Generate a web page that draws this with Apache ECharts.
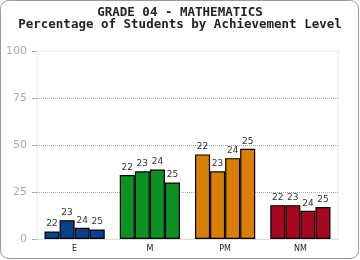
<!DOCTYPE html>
<html>
<head>
<meta charset="utf-8">
<script src="https://cdn.jsdelivr.net/npm/echarts@6/dist/echarts.min.js"></script>
<style>
  html, body { margin: 0; padding: 0; background: #fff; }
  #chart { width: 360px; height: 260px; }
</style>
</head>
<body>
<div id="chart"></div>
<script>
// achievement levels and school years
var levels = ['E', 'M', 'PM', 'NM'];
var years = ['22', '23', '24', '25'];
var levelColors = ['#0a418b', '#0c9224', '#d97e07', '#a7061f'];
var yTicks = [0, 25, 50, 75, 100];

// percent of students, one array per level (22..25)
var valE = [4, 10, 6, 5];
var valM = [34, 36, 37, 30];
var valPM = [45, 36, 43, 48];
var valNM = [18, 18, 15, 17];
var levelValues = [valE, valM, valPM, valNM];

var mono = 'DejaVu Sans Mono';

// one series per year, each bar coloured by its level
var series = years.map(function (yr, j) {
  return {
    name: yr,
    type: 'bar',
    barGap: 0,
    barCategoryGap: '20%',
    data: levels.map(function (lv, i) {
      return {
        value: levelValues[i][j],
        itemStyle: { color: levelColors[i] }
      };
    }),
    itemStyle: { borderColor: '#000', borderWidth: 1.2 },
    label: {
      show: true,
      position: 'top',
      distance: 3,
      formatter: yr,
      fontFamily: 'DejaVu Sans',
      fontSize: 9,
      color: '#333'
    }
  };
});

var chart = echarts.init(document.getElementById('chart'));
chart.setOption({
  animation: false,
  title: {
    text: 'GRADE 04 - MATHEMATICS\nPercentage of Students by Achievement Level',
    left: 'center',
    top: 2,
    textStyle: {
      fontFamily: mono,
      fontWeight: 'bold',
      fontSize: 12.5,
      lineHeight: 12,
      color: '#222'
    }
  },
  graphic: [{
    type: 'rect',
    shape: { x: 0.5, y: 0.5, width: 358, height: 258, r: 8 },
    style: { fill: 'none', stroke: '#999', lineWidth: 1 },
    z: 100
  }],
  grid: {
    left: 37, right: 22, top: 51, bottom: 21,
    show: true,
    borderColor: '#ebebeb',
    borderWidth: 1
  },
  xAxis: {
    type: 'category',
    data: levels,
    axisLine: { lineStyle: { color: '#ddd' } },
    axisTick: { show: false },
    axisLabel: { fontFamily: 'DejaVu Sans', fontSize: 8, color: '#222', margin: 6 }
  },
  yAxis: {
    type: 'value',
    min: yTicks[0],
    max: yTicks[yTicks.length - 1],
    interval: 25,
    axisLine: { show: false },
    axisTick: { show: true, length: 5, lineStyle: { color: '#aaa' } },
    axisLabel: { fontFamily: 'DejaVu Sans', fontSize: 11, color: '#aaa', margin: 10 },
    splitLine: {
      showMinLine: false,
      showMaxLine: false,
      lineStyle: { color: '#aaa', type: [1, 1] }
    }
  },
  series: series
});
</script>
</body>
</html>
